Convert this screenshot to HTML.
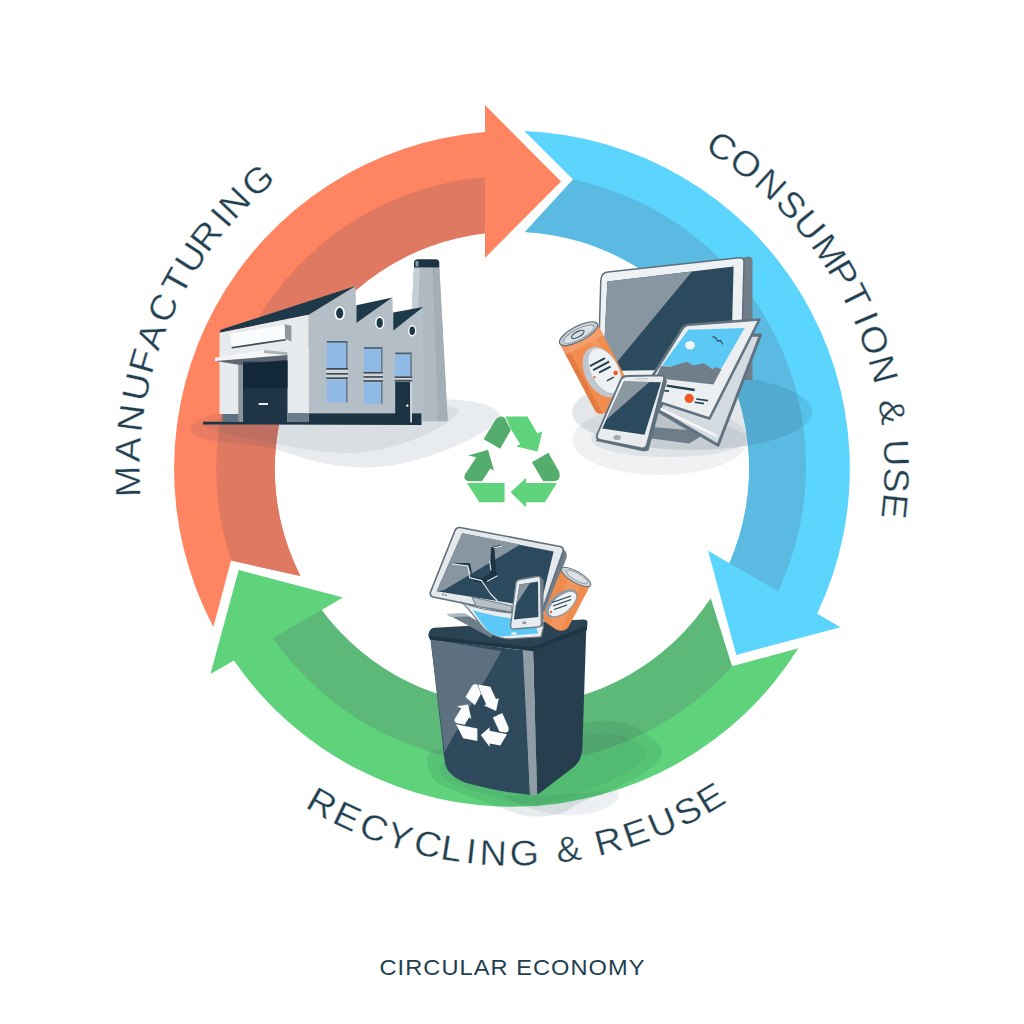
<!DOCTYPE html>
<html><head><meta charset="utf-8">
<style>
html,body{margin:0;padding:0;background:#fff;width:1024px;height:1024px;overflow:hidden}
svg{display:block}
.l{fill:var(--lt)}.d{fill:var(--dk)}
text{font-family:"Liberation Sans",sans-serif;fill:#22404f}
</style></head><body>
<svg width="1024" height="1024" viewBox="0 0 1024 1024">
<defs>
<g id="recg">
<g transform="translate(-487,-480)">
<path class="d" d="M265,310 L355,162 Q392,112 432,142 L480,235 L395,385 Z"/>
<path class="l" d="M437,130 L610,130 L688,262 L727,248 L690,405 L523,367 L552,347 L482,232 Z"/>
<path class="d" d="M645,490 L775,415 L860,565 Q880,640 805,640 L735,640 Z"/>
<path class="l" d="M842,655 L748,805 L600,805 L600,847 L478,727 L600,613 L600,655 Z"/>
<path class="l" d="M133,655 L430,655 L430,805 L232,805 Z"/>
<path class="d" d="M300,393 L347,557 L318,540 L252,640 L160,640 Q95,640 118,588 L207,452 L143,438 Z"/>
</g>
</g>
</defs>
<rect width="1024" height="1024" fill="#fff"/>
<g transform="rotate(0 512.0 468.8)"><path d="M231.0,560.5 L213.4,627.0 A337.8,337.8 0 0,1 485.0,132.1 L485.0,105.0 L561.0,181.5 L485.0,258.0 L485.0,233.3 A237.0,237.0 0 0,0 300.4,576.0 Z" fill="#ff8461"/><path d="M231.0,560.5 A292.8,292.8 0 0,1 485.0,177.2 L485.0,233.3 A237.0,237.0 0 0,0 300.4,576.0 Z" fill="#e07962"/></g>
<g transform="rotate(120 512.0 468.8)"><path d="M231.0,560.5 L213.4,627.0 A337.8,337.8 0 0,1 485.0,132.1 L485.0,105.0 L561.0,181.5 L485.0,258.0 L485.0,233.3 A237.0,237.0 0 0,0 300.4,576.0 Z" fill="#5bd4fe"/><path d="M231.0,560.5 A292.8,292.8 0 0,1 485.0,177.2 L485.0,233.3 A237.0,237.0 0 0,0 300.4,576.0 Z" fill="#5bbae2"/></g>
<g transform="rotate(240 512.0 468.8)"><path d="M231.0,560.5 L213.4,627.0 A337.8,337.8 0 0,1 485.0,132.1 L485.0,105.0 L561.0,181.5 L485.0,258.0 L485.0,233.3 A237.0,237.0 0 0,0 300.4,576.0 Z" fill="#5ed37b"/><path d="M231.0,560.5 A292.8,292.8 0 0,1 485.0,177.2 L485.0,233.3 A237.0,237.0 0 0,0 300.4,576.0 Z" fill="#5cb977"/></g>

<!-- factory shadow -->
<g id="fshadow">
<path d="M191,428 C195,412 260,405 330,402 C400,399 452,397 475,402 C500,407 503,415 496,422 C480,438 440,455 400,464 C360,472 320,465 285,452 C250,440 190,446 191,428 Z" fill="rgba(40,70,95,0.10)"/>
<path d="M202,423 C240,413 330,408 400,406 C440,405 462,406 458,412 C450,425 420,440 380,450 C345,457 305,450 278,444 C245,437 205,432 202,423 Z" fill="rgba(40,70,95,0.08)"/>
</g>
<!-- factory -->
<g id="factory">
<!-- chimney -->
<path d="M414,267.6 L439.3,267.6 L447.7,421.3 L405.7,421.3 Z" fill="#afb9c0"/>
<path d="M414,267.6 L420,267.6 L413,421 L405.7,421 Z" fill="#c6cdd3"/>
<path d="M432.5,267.6 L439.3,267.6 L447.7,421.3 L438,421.3 Z" fill="#a3aeb6"/>
<path d="M414,263 Q414,259.3 418,259.3 L435.3,259.3 Q439.3,259.3 439.3,263 L439.3,267.6 L414,267.6 Z" fill="#1b3443"/>
<rect x="415.5" y="261" width="3" height="5.5" rx="1" fill="#8d99a2"/>
<!-- main grey wall with sawtooth -->
<path d="M308.6,314.8 L355.5,286 L356.4,322.9 L392.4,297.4 L393.2,330.8 L423.1,307.1 L424,421 L308.6,421 Z" fill="#b4bec6"/>
<!-- sawtooth dark roofs -->
<path d="M356.4,305.3 L392.4,297.4 L356.4,322.9 Z" fill="#1e3a4a"/>
<path d="M393.2,312.4 L423.1,307.1 L393.2,330.8 Z" fill="#1e3a4a"/>
<!-- portholes -->
<ellipse cx="339.7" cy="313.2" rx="5.2" ry="7" fill="#fff"/><ellipse cx="339.7" cy="313.2" rx="3.6" ry="5.4" fill="#1e3a4a"/>
<ellipse cx="379.7" cy="322.9" rx="4.6" ry="6.3" fill="#fff"/><ellipse cx="379.7" cy="322.9" rx="3.1" ry="4.8" fill="#1e3a4a"/>
<ellipse cx="412.2" cy="330.8" rx="4.2" ry="5.8" fill="#fff"/><ellipse cx="412.2" cy="330.8" rx="2.8" ry="4.3" fill="#1e3a4a"/>
<!-- windows -->
<rect x="326.8" y="341.0" width="20.7" height="27.0" fill="#8ebae5"/>
<rect x="326.8" y="341.0" width="20.7" height="1.6" fill="#4d5a64"/>
<rect x="346.0" y="341.0" width="1.5" height="27.0" fill="#6b7781"/>
<rect x="326.3" y="368.0" width="21.7" height="11.4" fill="#cfd5d9"/>
<rect x="326.3" y="368.0" width="21.7" height="1.7" fill="#3f4c56"/>
<rect x="326.3" y="373.0" width="21.7" height="1.7" fill="#3f4c56"/>
<rect x="326.3" y="377.3" width="21.7" height="1.7" fill="#3f4c56"/>
<rect x="326.8" y="379.4" width="20.7" height="23.0" fill="#8ebae5"/>
<rect x="346.0" y="379.4" width="1.5" height="23.0" fill="#6b7781"/>
<rect x="364.0" y="347.2" width="18.5" height="24.6" fill="#8ebae5"/>
<rect x="364.0" y="347.2" width="18.5" height="1.6" fill="#4d5a64"/>
<rect x="381.0" y="347.2" width="1.5" height="24.6" fill="#6b7781"/>
<rect x="363.5" y="371.8" width="19.5" height="10.4" fill="#cfd5d9"/>
<rect x="363.5" y="371.9" width="19.5" height="1.7" fill="#3f4c56"/>
<rect x="363.5" y="376.1" width="19.5" height="1.7" fill="#3f4c56"/>
<rect x="363.5" y="380.1" width="19.5" height="1.7" fill="#3f4c56"/>
<rect x="364.0" y="382.2" width="18.5" height="21.6" fill="#8ebae5"/>
<rect x="381.0" y="382.2" width="1.5" height="21.6" fill="#6b7781"/>
<rect x="395.2" y="352.6" width="16.6" height="23.6" fill="#8ebae5"/>
<rect x="395.2" y="352.6" width="16.6" height="1.6" fill="#4d5a64"/>
<rect x="410.3" y="352.6" width="1.5" height="23.6" fill="#6b7781"/>
<rect x="394.7" y="376.2" width="17.6" height="5.6" fill="#cfd5d9"/>
<rect x="394.7" y="376.3" width="17.6" height="1.7" fill="#3f4c56"/>
<rect x="394.7" y="379.8" width="17.6" height="1.7" fill="#3f4c56"/>
<!-- base strip -->
<rect x="308.6" y="413.4" width="112.8" height="10.6" fill="#1b3443"/>
<rect x="395.2" y="381.8" width="15" height="42" fill="#1b3443"/>
<rect x="410.2" y="381.8" width="1.8" height="42.5" fill="#d3d8dc"/>
<circle cx="407.3" cy="405.6" r="1.2" fill="#fff"/>
<!-- annex roof -->
<path d="M219.5,332.8 L220.6,329.8 L355.5,286 L308.6,314.8 Z" fill="#1e3a4a"/>
<!-- annex white face -->
<path d="M219.5,332.8 L308.6,314.8 L308.6,414 L219.5,414 Z" fill="#e8ebee"/>
<!-- sign panel -->
<path d="M284.4,324.2 L291.4,325.8 L291.4,341.4 L285.2,339 Z" fill="#8e979e"/>
<path d="M230.5,333.6 L284.4,324.8 L285.2,339 L231.25,346.9 Z" fill="#fafbfc"/>
<path d="M231.25,346.9 L285.2,339 L286,340.5 L232,348.6 Z" fill="#3d4d58"/>
<!-- canopy -->
<path d="M215,357.8 L264,350 L287.5,352.3 L287.5,355 L239,362 L215,361 Z" fill="#f3f5f6"/>
<path d="M264,350 L287.5,352.3 L287.5,355 L264,353 Z" fill="#a9b1b7"/>
<path d="M215.6,361 L287.5,355 L287.5,360.5 L243,365.6 Z" fill="#5c6670"/>
<!-- door -->
<rect x="243" y="361.7" width="44.5" height="61.7" fill="#1d3546"/>
<path d="M243,364 L287.5,360 L287.5,388.3 L243,388.3 Z" fill="#13293a"/>
<rect x="238.3" y="364.8" width="4.7" height="58.6" fill="#8d959c"/>
<rect x="258.6" y="403" width="9.4" height="2" fill="#e8ebee"/>
<!-- annex base -->
<rect x="222.6" y="414" width="15.7" height="9.4" fill="#5c7280"/>
<rect x="287.5" y="413" width="21.1" height="10.4" fill="#6a7d89"/>
<!-- ground line -->
<path d="M203,421.8 L421.4,422.6 L421.4,425 L203,424.4 Z" fill="#1b3443"/>
</g>


<!-- devices shadow -->
<g id="dshadow">
<ellipse cx="692" cy="412" rx="120" ry="38" fill="rgba(30,60,85,0.12)"/>
<ellipse cx="660" cy="440" rx="88" ry="35" fill="rgba(30,60,85,0.07)"/>
<ellipse cx="669" cy="439" rx="78" ry="18" fill="rgba(30,60,85,0.08)"/>
</g>

<!-- center recycle symbol -->
<use href="#recg" transform="translate(511.8,460.9) scale(0.12695)" style="--lt:#5ed37b;--dk:#55ad6d"/>

<!-- bin shadow -->
<g id="bshadow">
<path d="M427,760 C425,750 440,746 462,750 L590,722 C622,716 650,732 660,746 C668,758 650,772 620,786 L575,805 C565,815 545,819 520,815 L442,786 C430,779 428,769 427,760 Z" fill="rgba(25,55,60,0.10)"/>
<path d="M505,796 C525,810 560,820 592,813 C612,808 624,798 617,790 L560,795 Z" fill="rgba(30,60,85,0.08)"/>
<path d="M440,770 C440,760 452,757 470,760 L590,734 C615,730 638,740 645,750 C650,758 635,768 612,780 L570,797 C552,804 532,806 512,802 L455,785 C445,781 440,776 440,770 Z" fill="rgba(25,55,60,0.06)"/>
</g>
<g id="bin"><!-- bin body -->
<path d="M430.5,639 L523.8,650.3 L530,794.9 Q500,792 470,784 Q449,778 445,764 Z" fill="#2f4a5c"/>
<path d="M430.5,639 L501.3,651.3 L444.5,752 Z" fill="#5c7080"/>
<path d="M533,649.2 L586.4,624.6 L582.3,750 Q581,760 575,766 L537.2,794.9 Z" fill="#263e4e"/>
<path d="M522.8,650 L533,649.2 L537.2,795 L530,794.9 Z" fill="#919da6"/>
<use href="#recg" transform="translate(481.5,714.5) skewY(11) scale(0.072,0.084)" style="--lt:#fafbfc;--dk:#fafbfc"/>
<!-- rim -->
<path d="M434.6,627.7 L583.3,619.5 Q588,619.5 587.4,623 L587,630 L533,651 L430,639.5 Q428,637 428.5,634 Q429.5,628 434.6,627.7 Z" fill="#2b4453"/>
<path d="M430,636 L531,647 L587,626 L587,630 L533,651 L430,639.5 Z" fill="#1e3644"/>

<!-- broken monitor -->
<g>
<path d="M562,547 L566,552 Q567.5,555 566.5,558 L545,612 L540,612 Z" fill="#6e7d88"/>
<path d="M460,527.5 L560,546.5 Q564,547.5 563,551.5 L542,611 L512,613 L433,597 Q429.5,596 430.5,592 L455,530.5 Q456.5,527 460,527.5 Z" fill="#e6e9ec" stroke="#5f6f7b" stroke-width="1.6"/>
<path d="M462.2,533.2 L553.6,551.6 L540,608 L436.7,591.2 Z" fill="#2c4a5d"/>
<path d="M462.2,533.2 L520.2,544.6 L444,590 L436.7,591.2 Z" fill="#8796a0"/>
<path d="M452.5,562.8 L470,563.2 L472.5,576 L482,578.5 L490,573.5 L491,547.5 L502,544.5 L494.5,549 L496,572 L498,576.5 L488,583 L474,581.5 L468.5,566 Z" fill="#1b3443"/>
<path d="M452.5,564.3 L467.8,565.8 L469.6,577.6 L481.6,580.6 L490.6,594 L497.6,601 M487,581.5 L497.5,575.8 M489.5,561 L491,570.5 M493.5,548 L502,546" fill="none" stroke="#e3e8eb" stroke-width="1.1" stroke-linejoin="round"/>
<circle cx="443" cy="594.5" r="0.9" fill="#6e7d88"/><circle cx="446" cy="595.2" r="0.9" fill="#6e7d88"/>
</g>
<!-- keyboard slab -->
<path d="M446.7,614 L464.8,613.4 L496,632 L490.6,637.5 Z" fill="#6e7d88"/>
<path d="M446.7,614 L464.8,613.4 L470,616.5 L450,617 Z" fill="#aeb8bf"/>
<!-- monitor base -->
<path d="M472,597 L512,606 L511.5,612 L476,606 Z" fill="#b6bfc6" stroke="#6e7d88" stroke-width="1"/>
<!-- bent tablet -->
<path d="M461,602 C470,606 478,609 510,613 L540,612 L543.5,627 L541,636.8 L510,638.8 C498,638.3 488,634 481,625 C474,616 468,607 461,602 Z" fill="#e9ecee" stroke="#6e7d88" stroke-width="1.2"/>
<path d="M472.8,610.5 C485,613.5 500,617 511.5,618.5 L535,622 L538,633.5 L500,636.5 C490,634.5 486,629 481,622 C477,616 475,613 472.8,610.5 Z" fill="#5bc8f5"/>
<ellipse cx="514" cy="633.5" rx="3" ry="1.3" fill="#eef3f6"/>
<!-- can -->
<g>
<path d="M561.6,569 L590.5,585 L568.5,627 Q564,633 556,629.5 L546,622.5 Q541.5,619 543,614.5 Z" fill="#f08b4e"/>
<path d="M570,573 L582,580.5 L561,630.5 L550,624.5 Z" fill="#f6a06c" opacity="0.55"/>
<ellipse cx="561.5" cy="603.5" rx="19" ry="10" transform="rotate(-40 561.5 603.5)" fill="#8e9aa3"/>
<ellipse cx="562.5" cy="604" rx="16.5" ry="8" transform="rotate(-40 562.5 604)" fill="#eef1f3"/>
<path d="M552,602.5 L571,596 M553,606 L571,599.5 M554,609.5 L567,605" stroke="#24404f" stroke-width="1.3"/>
<circle cx="551" cy="612" r="1.2" fill="#ef5a24"/>
<ellipse cx="576" cy="577" rx="16.8" ry="5.6" transform="rotate(30 576 577)" fill="#c9d0d5" stroke="#5c6d79" stroke-width="1"/>
<ellipse cx="577" cy="577" rx="12" ry="3.6" transform="rotate(30 577 577)" fill="#dde2e6" stroke="#8a97a0" stroke-width="0.8"/>
</g>
<!-- phone -->
<path d="M540,576.5 L543.5,580 L543.5,626 L540.5,627 Z" fill="#6e7d88"/>
<path d="M520,579.5 L537,576.5 Q540.5,576 540.6,579.5 L541.3,623 Q541.3,626.5 538,627 L514,629 Q510.5,629.2 510.6,625.8 L516,583 Q516.5,580 520,579.5 Z" fill="#e9ecee" stroke="#6e7d88" stroke-width="1.3"/>
<path d="M519.5,584.5 L538,581.5 L538.4,617 L513.8,619.5 Z" fill="#2c4a5d"/>
<path d="M519.5,584.5 L530,583 L515,606 L513.8,619.5 Z" fill="#8796a0"/>
<rect x="522.5" y="621.5" width="3.6" height="2.6" fill="#8796a0"/>
</g>
<g id="devices">
<!-- monitor -->
<path d="M742,258 L748,256.6 Q752.5,256.5 752.5,261 L752.5,380 L742,380 Z" fill="#6f7e89"/>
<path d="M608,272 L739,257.8 Q744,257.3 744,262 L741,376 L598,377 L600.8,280 Q601.3,272.8 608,272 Z" fill="#eef1f3" stroke="#5f6f7b" stroke-width="1.5"/>
<path d="M607.4,281.5 L733.6,266.6 L731,369 L603,371 Z" fill="#2c4a5d"/>
<path d="M607.4,281.5 L692,271.6 L610,370.5 L603,371 Z" fill="#8796a0"/>
<!-- stand -->
<path d="M650,405 L688,412 L700,437 L689,443.5 L648,438 Z" fill="#6e7d88"/>
<path d="M655,411 L687,430 L653,427 Z" fill="#bcc4ca"/>
<!-- tablet back page -->
<path d="M692,336 L760.5,335 L718,445.3 L659,410.6 Z" fill="#d5dce1" stroke="#617280" stroke-width="3" stroke-linejoin="round"/>
<path d="M661,407.5 L716,434 L718,438 L660,410 Z" fill="#f3f5f6"/>
<!-- tablet front page -->
<path d="M689,324.8 L759.5,319.5 L709.5,418.5 L640,396 L682,329 Q684.5,325.2 689,324.8 Z" fill="#eceff1" stroke="#617280" stroke-width="2.6" stroke-linejoin="round"/>
<path d="M688.4,329.7 L744.7,328 L721.25,368.75 L661.9,365.6 Z" fill="#5bc8f5"/>
<path d="M661,366 L671,366.5 L687,361.7 L693,365.6 L704,363.3 L712,368.7 L717,367.2 L721.5,369.3 L713.4,384.4 L655.6,378 Z" fill="#6f7e89"/>
<ellipse cx="690" cy="345.2" rx="4.8" ry="4.2" fill="#f2f5f7"/>
<path d="M712.5,336.7 L715.5,337.5 L717.5,341 L720.5,340.5 L723,344.5" fill="none" stroke="#3c5667" stroke-width="1.3"/>
<path d="M666.6,385.6 L694.7,390" stroke="#24404f" stroke-width="2.4"/>
<path d="M664.2,390.6 L668.9,391.2" stroke="#24404f" stroke-width="1.8"/>
<circle cx="689.2" cy="398.4" r="4.6" fill="#ef5a24"/>
<path d="M696.25,399 L708,400.6 M694.7,402.3 L704,403.6" stroke="#24404f" stroke-width="1.6"/>
<!-- can -->
<g transform="translate(578.5,333.7) rotate(-27.8)">
<path d="M-21.2,0 L21.2,0 L21.2,76 Q21.2,84 0,84 Q-21.2,84 -21.2,76 Z" fill="#f28c4f"/>
<path d="M-21.2,0 L-16,0 L-16,82 Q-21.2,80 -21.2,76 Z" fill="#e47c41"/>
<path d="M-21.2,3 L21.2,3 L21.2,13 L-21.2,13 Z" fill="#f5a577" opacity="0.7"/>
<path d="M6,0 L14,0 L14,84 L6,84 Z" fill="#f7a06b" opacity="0.5"/>
<ellipse cx="3" cy="45" rx="17" ry="27" fill="#bfc8ce"/>
<ellipse cx="6" cy="45" rx="13.5" ry="24" fill="#eef1f3"/>
<path d="M-5,34 L12,34 M-4,39 L14,39 M0,44 L13,44" stroke="#24404f" stroke-width="2.1"/>
<path d="M3,55 L11,55" stroke="#24404f" stroke-width="1.4"/>
<circle cx="14.5" cy="52" r="2.3" fill="#ef5a24"/><circle cx="-6" cy="46" r="1.1" fill="#ef5a24"/>
<ellipse cx="0" cy="0" rx="21.2" ry="7.5" fill="#c9d0d5" stroke="#5c6d79" stroke-width="1.2"/>
<ellipse cx="0" cy="0.6" rx="17" ry="5.2" fill="#dde2e6" stroke="#8a97a0" stroke-width="0.9"/>
<ellipse cx="-1" cy="0.3" rx="7" ry="2.6" fill="none" stroke="#4d5f6b" stroke-width="1.3"/>
</g>
<!-- phone -->
<path d="M664.3,377 L667,381 L648.5,450.5 L644,451.5 L596,441 L597,438 Z" fill="#5f6f7b"/>
<path d="M627.5,376 L660.5,375.4 Q665,375.5 664,379.5 L647,444.5 Q645.6,449 641,448.2 L600,439.8 Q595.5,438.8 597.2,434.5 L620.8,379.6 Q622.8,376.2 627.5,376 Z" fill="#e9ecee" stroke="#5f6f7b" stroke-width="1.8"/>
<path d="M624,381.5 L661,382.2 L644.5,434.8 L602.2,428.6 Z" fill="#2c4a5d"/>
<path d="M624,381.5 L649.3,382 L606.25,419.8 L602.2,428.6 Z" fill="#8a98a2"/>
<ellipse cx="617.2" cy="437.5" rx="3.8" ry="2.5" fill="#a0aab2"/>
<path d="M635.6,379 L648,378.8" stroke="#b7c0c6" stroke-width="1"/>
</g>
<g font-size="35.5" style="stroke:#fff;stroke-width:0.35px">
<text transform="translate(127.71,481.55) rotate(268.10) scale(1.060,1)" x="-14.79" y="12.21">M</text>
<text transform="translate(127.99,449.35) rotate(272.90) scale(1.060,1)" x="-11.84" y="12.21">A</text>
<text transform="translate(130.88,417.95) rotate(277.60) scale(1.060,1)" x="-12.83" y="12.21">N</text>
<text transform="translate(136.33,386.89) rotate(282.30) scale(1.060,1)" x="-12.82" y="12.21">U</text>
<text transform="translate(143.14,360.24) rotate(286.40) scale(1.060,1)" x="-11.59" y="12.21">F</text>
<text transform="translate(151.15,336.03) rotate(290.20) scale(1.060,1)" x="-11.84" y="12.21">A</text>
<text transform="translate(162.96,307.52) rotate(294.80) scale(1.060,1)" x="-13.04" y="12.21">C</text>
<text transform="translate(176.36,281.22) rotate(299.20) scale(1.060,1)" x="-10.83" y="12.21">T</text>
<text transform="translate(190.63,257.70) rotate(303.30) scale(1.060,1)" x="-12.82" y="12.21">U</text>
<text transform="translate(206.55,235.26) rotate(307.40) scale(1.060,1)" x="-13.45" y="12.21">R</text>
<text transform="translate(220.94,217.56) rotate(310.80) scale(1.060,1)" x="-4.93" y="12.21">I</text>
<text transform="translate(234.48,202.67) rotate(313.80) scale(1.060,1)" x="-12.83" y="12.21">N</text>
<text transform="translate(257.22,180.83) rotate(318.50) scale(1.060,1)" x="-13.37" y="12.21">G</text>
<text transform="translate(721.98,146.70) rotate(33.10) scale(1.060,1)" x="-13.04" y="12.21">C</text>
<text transform="translate(746.07,163.76) rotate(37.50) scale(1.060,1)" x="-13.80" y="12.21">O</text>
<text transform="translate(770.77,184.41) rotate(42.30) scale(1.060,1)" x="-12.83" y="12.21">N</text>
<text transform="translate(791.37,204.61) rotate(46.60) scale(1.060,1)" x="-11.83" y="12.21">S</text>
<text transform="translate(809.54,225.27) rotate(50.70) scale(1.060,1)" x="-12.82" y="12.21">U</text>
<text transform="translate(828.88,251.02) rotate(55.50) scale(1.060,1)" x="-14.79" y="12.21">M</text>
<text transform="translate(843.64,274.23) rotate(59.60) scale(1.060,1)" x="-12.36" y="12.21">P</text>
<text transform="translate(855.80,296.64) rotate(63.40) scale(1.060,1)" x="-10.83" y="12.21">T</text>
<text transform="translate(865.93,318.56) rotate(67.00) scale(1.060,1)" x="-4.93" y="12.21">I</text>
<text transform="translate(874.22,339.82) rotate(70.40) scale(1.060,1)" x="-13.80" y="12.21">O</text>
<text transform="translate(883.40,369.28) rotate(75.00) scale(1.060,1)" x="-12.83" y="12.21">N</text>
<text transform="translate(892.28,411.97) rotate(81.50) scale(1.060,1)" x="-12.19" y="12.21">&amp;</text>
<text transform="translate(896.16,452.70) rotate(87.60) scale(1.060,1)" x="-12.82" y="12.21">U</text>
<text transform="translate(896.33,480.21) rotate(91.70) scale(1.060,1)" x="-11.83" y="12.21">S</text>
<text transform="translate(894.60,506.99) rotate(95.70) scale(1.060,1)" x="-12.53" y="12.21">E</text>
<text transform="translate(322.66,803.45) rotate(29.50) scale(1.060,1)" x="-13.45" y="12.21">R</text>
<text transform="translate(347.98,816.56) rotate(25.25) scale(1.060,1)" x="-12.53" y="12.21">E</text>
<text transform="translate(374.21,827.76) rotate(21.00) scale(1.060,1)" x="-13.04" y="12.21">C</text>
<text transform="translate(399.58,836.50) rotate(17.00) scale(1.060,1)" x="-11.84" y="12.21">Y</text>
<text transform="translate(428.12,844.04) rotate(12.60) scale(1.060,1)" x="-13.04" y="12.21">C</text>
<text transform="translate(452.51,848.67) rotate(8.90) scale(1.060,1)" x="-10.74" y="12.21">L</text>
<text transform="translate(471.14,851.12) rotate(6.10) scale(1.060,1)" x="-4.93" y="12.21">I</text>
<text transform="translate(493.22,852.84) rotate(2.80) scale(1.060,1)" x="-12.83" y="12.21">N</text>
<text transform="translate(523.74,853.12) rotate(-1.75) scale(1.060,1)" x="-13.37" y="12.21">G</text>
<text transform="translate(568.83,849.08) rotate(-8.50) scale(1.060,1)" x="-12.19" y="12.21">&amp;</text>
<text transform="translate(608.92,840.88) rotate(-14.60) scale(1.060,1)" x="-13.45" y="12.21">R</text>
<text transform="translate(636.55,832.57) rotate(-18.90) scale(1.060,1)" x="-12.53" y="12.21">E</text>
<text transform="translate(662.24,822.73) rotate(-23.00) scale(1.060,1)" x="-12.82" y="12.21">U</text>
<text transform="translate(687.75,810.78) rotate(-27.20) scale(1.060,1)" x="-11.83" y="12.21">S</text>
<text transform="translate(711.18,797.69) rotate(-31.20) scale(1.060,1)" x="-12.53" y="12.21">E</text>
</g>
<text x="379.5" y="975" font-size="22" letter-spacing="1" textLength="266" lengthAdjust="spacingAndGlyphs">CIRCULAR ECONOMY</text>
</svg>
</body></html>
